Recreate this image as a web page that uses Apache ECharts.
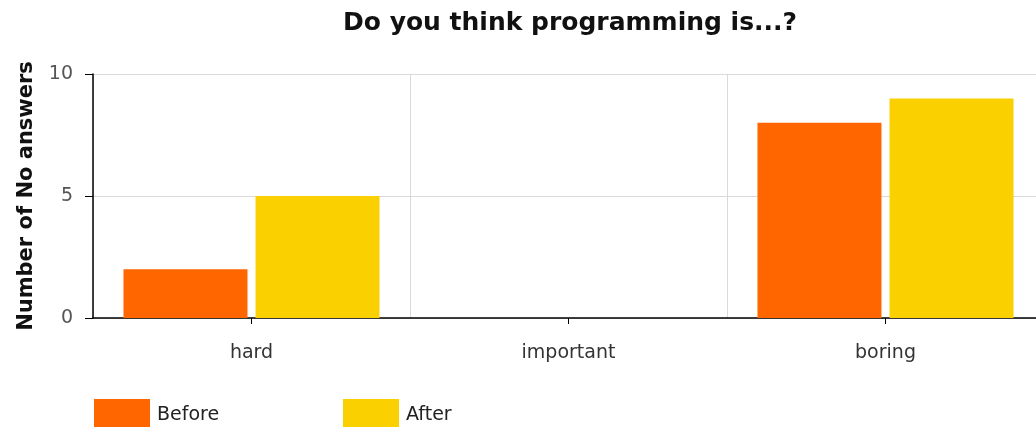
<!DOCTYPE html>
<html>
<head>
<meta charset="utf-8">
<script src="https://cdn.jsdelivr.net/npm/echarts@6/dist/echarts.min.js"></script>
<style>
  html, body { margin: 0; padding: 0; background: #fff; }
  #chart { width: 1036px; height: 427px; }
</style>
</head>
<body>
<div id="chart"></div>
<script>
// Survey answers: number of pupils answering "No", before and after the course
const categories = ['hard', 'important', 'boring'];
const seriesNames = ['Before', 'After'];
const beforeValues = [2, 0, 8];
const afterValues = [5, 0, 9];
const yTicks = [0, 5, 10];

const FONT = '"DejaVu Sans", Verdana, sans-serif';

const chart = echarts.init(document.getElementById('chart'), null, { renderer: 'canvas' });

// one legend block per series so each sits at its own column
const legendBase = {
  top: 399,
  padding: 0,
  itemWidth: 56,
  itemHeight: 32,
  icon: 'rect',
  textStyle: { fontFamily: FONT, fontSize: 19, color: '#222', padding: [0, 0, 0, 2] }
};

chart.setOption({
  animation: false,
  backgroundColor: '#ffffff',
  title: {
    text: 'Do you think programming is...?',
    left: 338,
    top: 6,
    textStyle: { fontFamily: FONT, fontSize: 25, fontWeight: 'bold', color: '#111' }
  },
  legend: [
    Object.assign({}, legendBase, { data: [seriesNames[0]], left: 94 }),
    Object.assign({}, legendBase, { data: [seriesNames[1]], left: 343 })
  ],
  grid: {
    left: 93, top: 74, width: 951, height: 244,
    containLabel: false,
    outerBoundsMode: 'none'
  },
  xAxis: {
    type: 'category',
    data: categories,
    boundaryGap: true,
    axisLine: { lineStyle: { color: '#000', width: 1.5 } },
    axisTick: { show: true, alignWithLabel: true, length: 6, lineStyle: { color: '#000' } },
    axisLabel: { fontFamily: FONT, fontSize: 19, color: '#333', margin: 26 },
    splitLine: { show: true, lineStyle: { color: '#d9d9d9', width: 1 } }
  },
  yAxis: {
    type: 'value',
    min: yTicks[0],
    max: yTicks[yTicks.length - 1],
    interval: yTicks[1] - yTicks[0],
    name: 'Number of No answers',
    nameLocation: 'middle',
    nameGap: 56,
    nameTextStyle: { fontFamily: FONT, fontSize: 21, fontWeight: 'bold', color: '#111' },
    axisLine: { show: true, lineStyle: { color: '#000', width: 1.5 } },
    axisTick: { show: true, length: 8, lineStyle: { color: '#000' } },
    axisLabel: { fontFamily: FONT, fontSize: 19, color: '#555', margin: 20 },
    splitLine: { show: true, lineStyle: { color: '#d9d9d9', width: 1 } }
  },
  series: [
    {
      name: seriesNames[0],
      type: 'bar',
      data: beforeValues,
      barWidth: 124,
      barGap: '6.5%',
      itemStyle: { color: '#ff6600' }
    },
    {
      name: seriesNames[1],
      type: 'bar',
      data: afterValues,
      barWidth: 124,
      barGap: '6.5%',
      itemStyle: { color: '#fad000' }
    }
  ]
});
</script>
</body>
</html>
